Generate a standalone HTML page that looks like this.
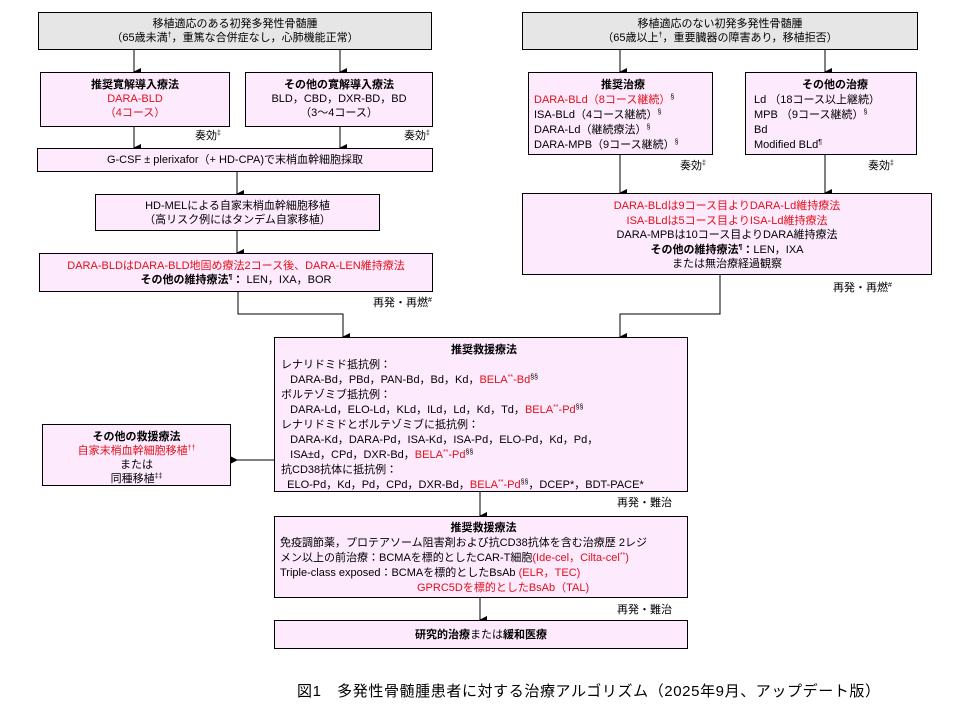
<!DOCTYPE html>
<html><head><meta charset="utf-8"><style>
body{margin:0;background:#fff;width:960px;height:720px;position:relative;overflow:hidden;font-family:"Liberation Sans","Noto Sans CJK JP",sans-serif;font-size:11px;color:#000}
.b{position:absolute;border:1px solid #000;background:#fdeafd;box-sizing:border-box;line-height:14px;white-space:nowrap}
.g{background:#e6e6e6}
.c{text-align:center}
.r{color:#e0101a}
b{font-weight:bold}
sup{font-size:7px;line-height:0;vertical-align:4px}
.t{position:absolute;font-size:11px;line-height:13px}
svg{position:absolute;left:0;top:0}
</style></head><body>
<svg width="960" height="720">
<defs><marker id="a" markerWidth="8" markerHeight="8" refX="4" refY="7" orient="auto" markerUnits="userSpaceOnUse"><path d="M0,0 L8,0 L4,8z" fill="#000"/></marker>
<marker id="l" markerWidth="8" markerHeight="8" refX="7" refY="4" orient="auto" markerUnits="userSpaceOnUse"><path d="M8,0 L8,8 L0,4z" fill="#000"/></marker></defs>
<g stroke="#000" stroke-width="1" fill="none">
<path d="M134,50V72" marker-end="url(#a)"/>
<path d="M340,50V72" marker-end="url(#a)"/>
<path d="M134,127V148" marker-end="url(#a)"/>
<path d="M340,127V148" marker-end="url(#a)"/>
<path d="M237,172V194" marker-end="url(#a)"/>
<path d="M237,231V253" marker-end="url(#a)"/>
<path d="M238,292V314H343V337" marker-end="url(#a)"/>
<path d="M620,50V72" marker-end="url(#a)"/>
<path d="M825,50V72" marker-end="url(#a)"/>
<path d="M620,155V193" marker-end="url(#a)"/>
<path d="M825,155V193" marker-end="url(#a)"/>
<path d="M720,275V314H620V337" marker-end="url(#a)"/>
<path d="M274,460H231" marker-end="url(#l)"/>
<path d="M480,492V516" marker-end="url(#a)"/>
<path d="M480,598V620" marker-end="url(#a)"/>
</g></svg>

<div class="b g c" style="left:38px;top:12px;width:394px;height:38px;padding-top:4px">移植適応のある初発多発性骨髄腫<br>（65歳未満<sup>†</sup>，重篤な合併症なし，心肺機能正常）</div>
<div class="b c" style="left:40px;top:72px;width:190px;height:55px;padding-top:5px"><b>推奨寛解導入療法</b><br><span class="r">DARA-BLD<br>（4コース）</span></div>
<div class="b c" style="left:245px;top:72px;width:188px;height:55px;padding-top:5px"><b>その他の寛解導入療法</b><br>BLD，CBD，DXR-BD，BD<br>（3～4コース）</div>
<div class="t" style="left:195px;top:130px">奏効<sup>‡</sup></div>
<div class="t" style="left:404px;top:130px">奏効<sup>‡</sup></div>
<div class="b c" style="left:37px;top:148px;width:396px;height:24px;padding-top:4px">G-CSF ± plerixafor（+ HD-CPA)で末梢血幹細胞採取</div>
<div class="b c" style="left:95px;top:194px;width:285px;height:37px;padding-top:4px">HD-MELによる自家末梢血幹細胞移植<br>（高リスク例にはタンデム自家移植）</div>
<div class="b c" style="left:39px;top:253px;width:394px;height:39px;padding-top:5px"><span class="r">DARA-BLDはDARA-BLD地固め療法2コース後、DARA-LEN維持療法</span><br><b>その他の維持療法<sup>¶</sup>：</b> LEN，IXA，BOR</div>
<div class="t" style="left:373px;top:297px">再発・再燃<sup>#</sup></div>

<div class="b g c" style="left:522px;top:12px;width:396px;height:38px;padding-top:4px">移植適応のない初発多発性骨髄腫<br>（65歳以上<sup>†</sup>，重要臓器の障害あり，移植拒否）</div>
<div class="b" style="left:528px;top:72px;width:185px;height:83px;padding:5px 0 0 5px;line-height:15px"><div class="c"><b>推奨治療</b></div><span class="r">DARA-BLd（8コース継続）</span><sup>§</sup><br>ISA-BLd（4コース継続）<sup>§</sup><br>DARA-Ld（継続療法）<sup>§</sup><br>DARA-MPB（9コース継続）<sup>§</sup></div>
<div class="b" style="left:745px;top:72px;width:172px;height:83px;padding:5px 0 0 8px;line-height:15px"><div class="c"><b>その他の治療</b></div>Ld （18コース以上継続）<br>MPB （9コース継続）<sup>§</sup><br>Bd<br>Modified BLd<sup>¶</sup></div>
<div class="t" style="left:680px;top:160px">奏効<sup>‡</sup></div>
<div class="t" style="left:868px;top:160px">奏効<sup>‡</sup></div>
<div class="b c" style="left:522px;top:193px;width:410px;height:82px;padding-top:5px;line-height:14.5px"><span class="r">DARA-BLdは9コース目よりDARA-Ld維持療法<br>ISA-BLdは5コース目よりISA-Ld維持療法</span><br>DARA-MPBは10コース目よりDARA維持療法<br><b>その他の維持療法<sup>¶</sup>：</b>LEN，IXA<br>または無治療経過観察</div>
<div class="t" style="left:833px;top:282px">再発・再燃<sup>#</sup></div>

<div class="b" style="left:274px;top:337px;width:414px;height:155px;padding:5px 0 0 6px;line-height:15px"><div class="c"><b>推奨救援療法</b></div>レナリドミド抵抗例：<br>&nbsp;&nbsp;&nbsp;DARA-Bd，PBd，PAN-Bd，Bd，Kd，<span class="r">BELA<sup>**</sup>-Bd</span><sup>§§</sup><br>ボルテゾミブ抵抗例：<br>&nbsp;&nbsp;&nbsp;DARA-Ld，ELO-Ld，KLd，ILd，Ld，Kd，Td，<span class="r">BELA<sup>**</sup>-Pd</span><sup>§§</sup><br>レナリドミドとボルテゾミブに抵抗例：<br>&nbsp;&nbsp;&nbsp;DARA-Kd，DARA-Pd，ISA-Kd，ISA-Pd，ELO-Pd，Kd，Pd，<br>&nbsp;&nbsp;&nbsp;ISA±d，CPd，DXR-Bd，<span class="r">BELA<sup>**</sup>-Pd</span><sup>§§</sup><br>抗CD38抗体に抵抗例：<br>&nbsp;&nbsp;ELO-Pd，Kd，Pd，CPd，DXR-Bd，<span class="r">BELA<sup>**</sup>-Pd</span><sup>§§</sup>，DCEP*，BDT-PACE*</div>
<div class="b c" style="left:42px;top:424px;width:189px;height:62px;padding-top:5px"><b>その他の救援療法</b><br><span class="r">自家末梢血幹細胞移植<sup>††</sup></span><br>または<br>同種移植<sup>‡‡</sup></div>
<div class="t" style="left:617px;top:497px">再発・難治</div>
<div class="b" style="left:274px;top:516px;width:414px;height:82px;padding:4px 0 0 5px;line-height:15px"><div class="c"><b>推奨救援療法</b></div>免疫調節薬，プロテアソーム阻害剤および抗CD38抗体を含む治療歴 2レジ<br>メン以上の前治療：BCMAを標的としたCAR-T細胞<span class="r">(Ide-cel，Cilta-cel<sup>**</sup>)</span><br>Triple-class exposed：BCMAを標的としたBsAb <span class="r">(ELR，TEC)</span><br><span class="r" style="padding-left:137px">GPRC5Dを標的としたBsAb（TAL)</span></div>
<div class="t" style="left:617px;top:604px">再発・難治</div>
<div class="b c" style="left:274px;top:620px;width:414px;height:29px;padding-top:7px"><b>研究的治療</b>または<b>緩和医療</b></div>
<div class="t" style="left:297px;top:683px;font-size:15px;line-height:17px;letter-spacing:0.6px">図1　多発性骨髄腫患者に対する治療アルゴリズム（2025年9月、アップデート版）</div>
</body></html>
